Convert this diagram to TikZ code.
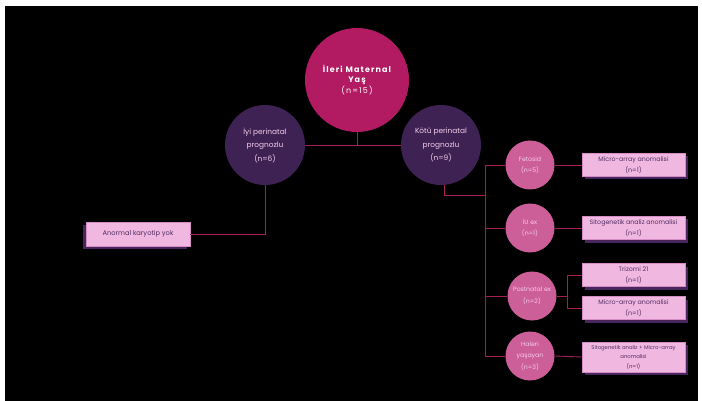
\documentclass[tikz,border=0pt]{standalone}
\usepackage{fontspec}
\setmainfont{Poppins}
\newfontfamily\titlefont[LetterSpace=14]{Poppins}
\usetikzlibrary{shadows}
\definecolor{rootc}{RGB}{178,26,98}
\definecolor{purc}{RGB}{62,34,84}
\definecolor{pinkc}{RGB}{204,94,152}
\definecolor{boxc}{RGB}{240,184,224}
\definecolor{boxline}{RGB}{214,140,196}
\definecolor{shadowc}{RGB}{70,38,92}
\definecolor{linec}{RGB}{165,30,88}
\definecolor{lighttext}{RGB}{246,206,234}
\definecolor{darktext}{RGB}{80,44,100}
\tikzset{
  topc/.style={circle, fill=rootc, minimum size=104pt, inner sep=0pt, align=center, text=white,
    font=\titlefont\fontsize{8}{10.5}\selectfont},
  purcirc/.style={circle, fill=purc, minimum size=80pt, inner sep=0pt, align=center, text=lighttext,
    font=\fontsize{7.4}{13.5}\selectfont},
  pinkcirc/.style={circle, fill=pinkc, minimum size=49pt, inner sep=0pt, align=center, text=lighttext,
    font=\fontsize{6.2}{11.5}\selectfont},
  rbox/.style={rectangle, fill=boxc, draw=boxline, line width=0.4pt, minimum width=103pt, minimum height=23pt,
    inner sep=0pt, align=center, text=darktext, font=\fontsize{6.3}{10.5}\selectfont,
    drop shadow={shadow xshift=3pt, shadow yshift=-3pt, fill=shadowc, opacity=1}},
  lbox/.style={rectangle, fill=boxc, draw=boxline, line width=0.4pt, minimum width=104pt, minimum height=24pt,
    inner sep=0pt, align=center, text=darktext, font=\fontsize{6.7}{10}\selectfont,
    drop shadow={shadow xshift=-3pt, shadow yshift=-3pt, fill=shadowc, opacity=1}},
  conn/.style={draw=linec, line width=0.9pt}
}
\begin{document}
\begin{tikzpicture}[x=1pt,y=-1pt]
\useasboundingbox (0,0) rectangle (702,401);
\fill[white] (0,0) rectangle (702,401);
\fill[black] (5,6) rectangle (698,401);

% nodes
\node[topc] (root) at (357,80) {\bfseries İleri Maternal\\ \bfseries Yaş\\ (n=15)};
\node[purcirc] (good) at (265,145) {İyi perinatal\\ prognozlu\\ (n=6)};
\node[purcirc] (bad) at (441,145) {Kötü perinatal\\ prognozlu\\ (n=9)};
\node[lbox] (kary) at (138,234) {Anormal karyotip yok};

\node[pinkcirc] (feto) at (530,165) {Fetosid\\ (n=5)};
\node[pinkcirc] (iu) at (530,228) {İU ex\\ (n=1)};
\node[pinkcirc] (post) at (532,296) {Postnatal ex\\ (n=2)};
\node[pinkcirc] (halen) at (530,356) {Halen\\ yaşayan\\ (n=3)};

\node[rbox] (b1) at (633.5,165) {Micro-array anomalisi\\ (n=1)};
\node[rbox] (b2) at (633.5,228) {Sitogenetik analiz anomalisi\\ (n=1)};
\node[rbox] (b3) at (633.5,275) {Trizomi 21\\ (n=1)};
\node[rbox] (b4) at (633.5,308) {Micro-array anomalisi\\ (n=1)};
\node[rbox, minimum height=30pt, font=\fontsize{5.3}{9.5}\selectfont] (b5) at (633.5,357) {Sitogenetik analiz + Micro-array\\ anomalisi\\ (n=1)};

% junction coordinates
\coordinate (j0) at (root.south |- good.east);
\coordinate (t0) at (485,195);
\coordinate (pj) at (567,296);

% connectors
\path[conn] (root.south) -- (j0);
\path[conn] (good.east) -- (bad.west);
\path[conn] (good.south) |- (kary.east);
\path[conn] ([xshift=3pt]bad.south) |- (t0);
\path[conn] (feto.west) -- (feto.west -| t0) -- (halen.west -| t0) -- (halen.west);
\path[conn] (iu.west) -- (iu.west -| t0);
\path[conn] (post.west) -- (post.west -| t0);
\path[conn] (feto.east) -- (b1.west);
\path[conn] (iu.east) -- (b2.west);
\path[conn] (post.east) -- (pj);
\path[conn] (pj) |- (b3.west);
\path[conn] (pj) |- (b4.west);
\path[conn] (halen.east) -- (b5.west);
\end{tikzpicture}
\end{document}
